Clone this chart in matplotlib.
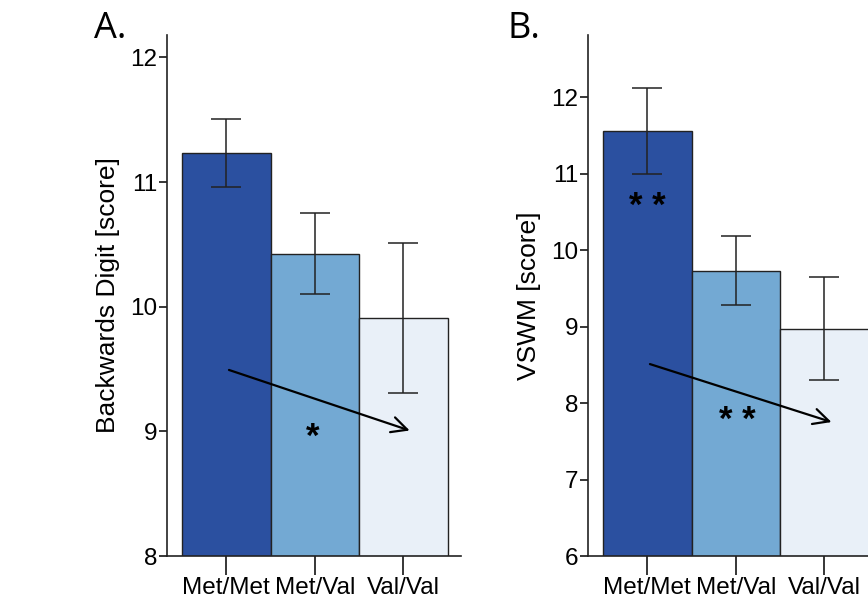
import numpy as np
import matplotlib.pyplot as plt

plt.rcParams['font.family'] = ['Liberation Sans', 'DejaVu Sans']

# data
genotypes = ['Met/Met', 'Met/Val', 'Val/Val']
bar_colors = ['#2b50a0', '#73a9d3', '#e9f0f8']

digit_mean = [11.23, 10.42, 9.91]
digit_lo = [10.96, 10.10, 9.31]
digit_hi = [11.51, 10.75, 10.51]

vswm_mean = [11.56, 9.73, 8.97]
vswm_lo = [10.99, 9.28, 8.30]
vswm_hi = [12.12, 10.18, 9.65]


def draw_panel(ax, means, lo, hi, ylim, yticks, ylabel):
    x = np.arange(len(genotypes))
    means = np.array(means)
    err = [means - np.array(lo), np.array(hi) - means]
    ax.bar(x, means, width=1.0, color=bar_colors, edgecolor='#222222',
           linewidth=1.0, bottom=0, zorder=2)
    ax.errorbar(x, means, yerr=err, fmt='none', ecolor='#222222',
                elinewidth=1.1, capsize=11, capthick=1.1, zorder=3)
    ax.set_xlim(-0.67, 2.65)
    ax.set_ylim(*ylim)
    ax.set_yticks(yticks)
    ax.set_xticks(x)
    ax.set_xticklabels(genotypes, fontsize=17.5)
    ax.tick_params(axis='y', labelsize=17.5, length=6, width=1.1, pad=1)
    ax.tick_params(axis='x', length=14, width=1.1, pad=1)
    ax.set_ylabel(ylabel, fontsize=19, labelpad=7)
    for s in ['top', 'right']:
        ax.spines[s].set_visible(False)
    for s in ['left', 'bottom']:
        ax.spines[s].set_linewidth(1.2)
        ax.spines[s].set_color('#222222')


fig = plt.figure(figsize=(8.68, 6.0), dpi=100)

axA = fig.add_axes([0.1924, 0.0733, 0.3387, 0.8683])
draw_panel(axA, digit_mean, digit_lo, digit_hi, (8, 12.18),
           [8, 9, 10, 11, 12], 'Backwards Digit [score]')
axA.annotate('', xy=(2.1, 9.0), xytext=(0.0, 9.5),
             arrowprops=dict(arrowstyle='->', color='black', lw=1.6,
                             mutation_scale=28), zorder=4)
axA.text(0.98, 8.95, '*', ha='center', va='center', fontsize=25,
         fontweight='bold', zorder=5)

axB = fig.add_axes([0.6774, 0.0733, 0.3387, 0.8683])
draw_panel(axB, vswm_mean, vswm_lo, vswm_hi, (6, 12.81),
           [6, 7, 8, 9, 10, 11, 12], 'VSWM [score]')
axB.annotate('', xy=(2.11, 7.74), xytext=(0.0, 8.52),
             arrowprops=dict(arrowstyle='->', color='black', lw=1.6,
                             mutation_scale=28), zorder=4)
axB.text(0.0, 10.57, '* *', ha='center', va='center', fontsize=25,
         fontweight='bold', zorder=5)
axB.text(1.02, 7.77, '* *', ha='center', va='center', fontsize=25,
         fontweight='bold', zorder=5)

fig.text(0.108, 0.937, 'A.', fontsize=26, ha='left', va='baseline',
         family=['Open Sans', 'DejaVu Sans'])
fig.text(0.585, 0.937, 'B.', fontsize=26, ha='left', va='baseline',
         family=['Open Sans', 'DejaVu Sans'])

fig.savefig('out.png', dpi=100)
